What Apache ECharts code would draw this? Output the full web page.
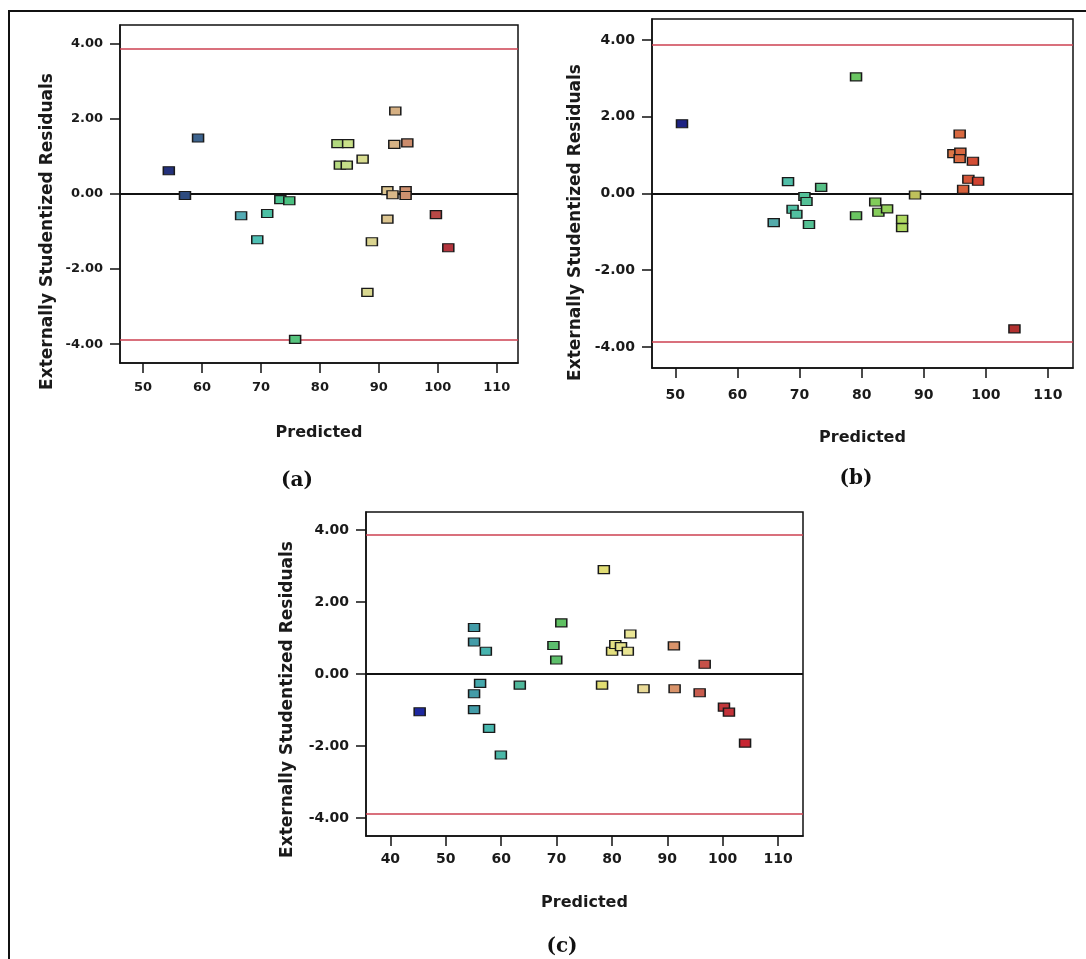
<!DOCTYPE html>
<html>
<head>
    <meta charset="utf-8">
    <title>Externally Studentized Residuals vs Predicted</title>
    <style type="text/css">
        body{ margin:0; background:#fff; }
        #main{ width:1086px; height:959px; }
    </style>
    <script src="https://cdn.jsdelivr.net/npm/echarts@6/dist/echarts.min.js"></script>
</head>
<body>
<div id="main"></div>
<script type="text/javascript">
// (a) predicted values and residuals
var predA = [54.38, 59.34, 57.12, 66.64, 69.38, 71.07, 73.29, 74.81, 75.80, 82.98, 84.79, 83.39, 84.56,
             87.25, 88.06, 88.82, 92.79, 92.62, 94.83, 91.45, 92.32, 94.54, 94.54, 91.45, 99.68, 101.78];
var residA = [0.62, 1.49, -0.04, -0.58, -1.22, -0.52, -0.15, -0.18, -3.87, 1.34, 1.34, 0.77, 0.77,
              0.93, -2.62, -1.27, 2.21, 1.32, 1.36, 0.09, -0.02, 0.09, -0.04, -0.67, -0.55, -1.43];
// (b)
var predB = [51.07, 79.10, 68.15, 73.48, 65.84, 68.88, 69.49, 70.79, 71.12, 71.52, 79.10, 82.19, 82.70,
             84.10, 86.52, 86.52, 88.60, 95.79, 94.78, 95.90, 95.79, 97.92, 97.19, 98.76, 96.35, 104.61];
var residB = [1.82, 3.04, 0.31, 0.16, -0.76, -0.41, -0.54, -0.08, -0.21, -0.81, -0.58, -0.22, -0.49,
              -0.40, -0.67, -0.89, -0.04, 1.55, 1.04, 1.08, 0.91, 0.84, 0.37, 0.32, 0.11, -3.53];
// (c)
var predC = [45.29, 55.11, 55.11, 57.24, 56.20, 55.11, 55.11, 57.82, 59.95, 63.37, 69.44, 69.95, 70.86, 78.54,
             78.22, 80.03, 80.61, 81.64, 82.87, 83.32, 85.71, 91.19, 91.32, 95.84, 96.75, 100.23, 101.13, 104.04];
var residC = [-1.05, 1.29, 0.89, 0.63, -0.26, -0.55, -0.99, -1.51, -2.25, -0.31, 0.79, 0.39, 1.42, 2.90,
              -0.31, 0.63, 0.82, 0.76, 0.63, 1.11, -0.41, 0.78, -0.41, -0.52, 0.27, -0.92, -1.06, -1.92];

var limit = 3.87;                       // outlier limits +/-
var yTicks = [-4, -2, 0, 2, 4];
var xTicksAB = [50, 60, 70, 80, 90, 100, 110];
var xTicksC = [40, 50, 60, 70, 80, 90, 100, 110];

var myChart = echarts.init(document.getElementById('main'));

// colour ramps blue -> teal -> green -> yellow -> red (Design-Expert style), one per panel
var rampA = ['#1a1a78', '#305080', '#5a90b0', '#50c0b8', '#48c080', '#90d070', '#d8e490', '#dcc490', '#c06050', '#b02838'];
var rampB = ['#1a1a80', '#2c4a90', '#5a8cb0', '#50c0a8', '#58c080', '#70c858', '#b0d860', '#e09050', '#d04030', '#b03030'];
var rampC = ['#1818a0', '#3a6a9a', '#48b8b0', '#50b898', '#60c060', '#e0dc70', '#ece8a0', '#d89068', '#c04040', '#c82030'];

function pairs(xs, ys) {
    return xs.map(function (x, i) { return [x, ys[i]]; });
}

// one panel: grid + axes + series
var panels = [
    {grid: {left: 120, top: 25, width: 398, height: 338}, xmin: 46.1, xmax: 113.6, ymin: -4.5, ymax: 4.5,
     xt: xTicksAB, data: pairs(predA, residA), cmin: 52, cmax: 103, ramp: rampA,
     fs: 13, xm: 18, nameGapX: 62, nameGapY: 64, shift: 75},
    {grid: {left: 652, top: 19, width: 421, height: 349}, xmin: 46.24, xmax: 114.04, ymin: -4.55, ymax: 4.55,
     xt: xTicksAB, data: pairs(predB, residB), cmin: 50, cmax: 105, ramp: rampB,
     fs: 14, xm: 20, nameGapX: 62, nameGapY: 68, shift: 58},
    {grid: {left: 366, top: 512, width: 437, height: 324}, xmin: 35.6, xmax: 114.5, ymin: -4.5, ymax: 4.5,
     xt: xTicksC, data: pairs(predC, residC), cmin: 44, cmax: 105, ramp: rampC,
     fs: 14, xm: 16, nameGapX: 59, nameGapY: 70, shift: 51}
];

var labelFont = {color: '#1a1a1a', fontFamily: 'DejaVu Sans', fontWeight: 'bold'};
var option = {
    backgroundColor: '#fff',
    animation: false,
    grid: [], xAxis: [], yAxis: [], series: [], visualMap: [],
    graphic: [
        // outer frame (only top & left edges are inside the picture)
        {type: 'rect', shape: {x: 9, y: 11, width: 1200, height: 1200},
         style: {fill: null, stroke: '#111', lineWidth: 2}, silent: true},
        {type: 'text', x: 297, y: 481, style: {text: '(a)', font: 'bold 20px "DejaVu Serif"', fill: '#111', align: 'center', verticalAlign: 'middle'}},
        {type: 'text', x: 856, y: 479, style: {text: '(b)', font: 'bold 20px "DejaVu Serif"', fill: '#111', align: 'center', verticalAlign: 'middle'}},
        {type: 'text', x: 562, y: 947, style: {text: '(c)', font: 'bold 20px "DejaVu Serif"', fill: '#111', align: 'center', verticalAlign: 'middle'}}
    ]
};

panels.forEach(function (p, i) {
    option.grid.push(Object.assign({show: true, borderColor: '#111', borderWidth: 1.5, backgroundColor: '#fff'}, p.grid));
    option.xAxis.push({
        gridIndex: i, type: 'value', min: p.xmin, max: p.xmax,
        name: 'Predicted', nameLocation: 'middle', nameGap: p.nameGapX,
        nameTextStyle: Object.assign({fontSize: 16}, labelFont),
        axisLine: {show: true, onZero: false, lineStyle: {color: '#111', width: 1.5}},
        axisTick: {show: true, inside: false, length: 10, customValues: p.xt, lineStyle: {color: '#111', width: 1.5}},
        axisLabel: Object.assign({fontSize: p.fs, margin: p.xm, customValues: p.xt}, labelFont),
        splitLine: {show: false}
    });
    option.yAxis.push({
        gridIndex: i, type: 'value', min: p.ymin, max: p.ymax,
        name: 'Externally Studentized Residuals', nameLocation: 'middle', nameGap: p.nameGapY,
        // right padding pushes the rotated name down along the axis
        nameTextStyle: Object.assign({fontSize: 17, padding: [0, p.shift, 0, 0]}, labelFont),
        axisLine: {show: true, onZero: false, lineStyle: {color: '#111', width: 1.5}},
        axisTick: {show: true, inside: false, length: 10, customValues: yTicks, lineStyle: {color: '#111', width: 1.5}},
        axisLabel: Object.assign({fontSize: p.fs, margin: 17, customValues: yTicks,
            formatter: function (v) { return v.toFixed(2); }}, labelFont),
        splitLine: {show: false}
    });
    option.series.push({
        type: 'scatter', xAxisIndex: i, yAxisIndex: i,
        symbol: 'rect', symbolSize: [11, 8],
        itemStyle: {borderColor: '#1a1a1a', borderWidth: 1.3, opacity: 1},
        data: p.data,
        markLine: {
            silent: true, symbol: 'none', label: {show: false}, z: 1,
            data: [
                {yAxis: 0, lineStyle: {color: '#111', width: 2, type: 'solid'}},
                {yAxis: limit, lineStyle: {color: '#cc4050', width: 1.6, type: 'solid'}},
                {yAxis: -limit, lineStyle: {color: '#cc4050', width: 1.6, type: 'solid'}}
            ]
        }
    });
    option.visualMap.push({
        type: 'continuous', show: false, seriesIndex: i, dimension: 0,
        min: p.cmin, max: p.cmax, inRange: {color: p.ramp}
    });
});

myChart.setOption(option);
</script>
</body>
</html>
